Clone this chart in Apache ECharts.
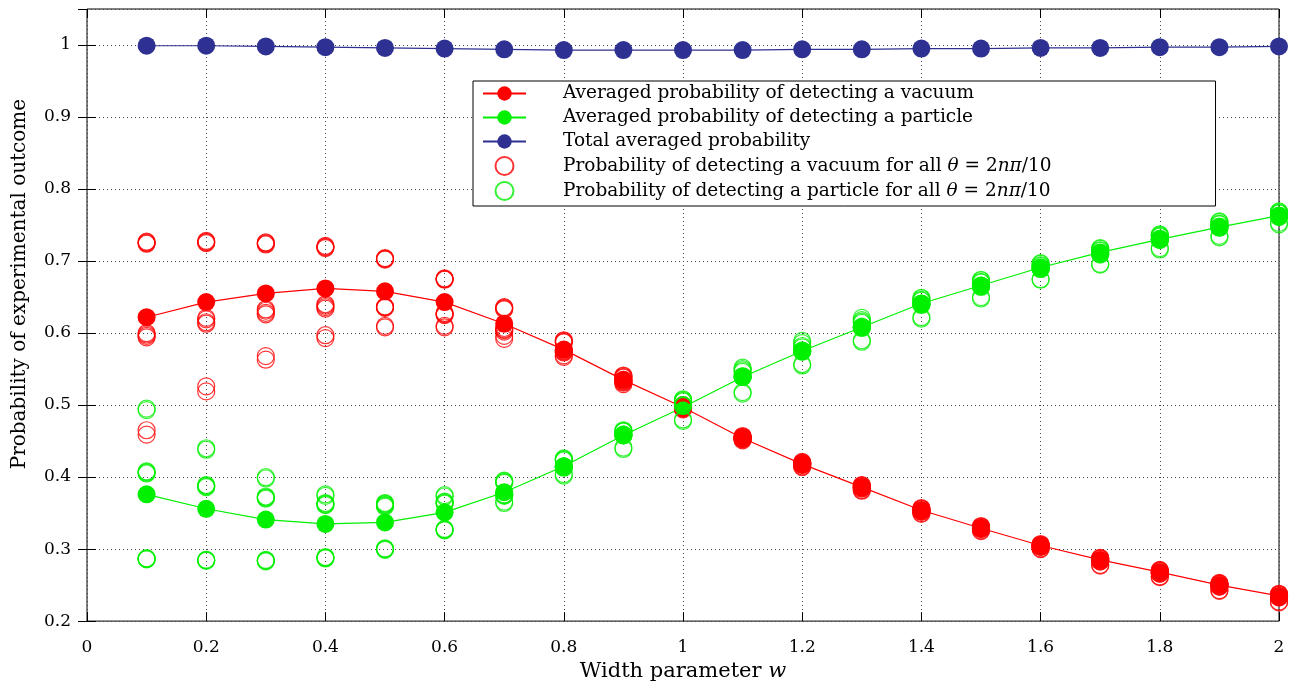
<!DOCTYPE html>
<html><head><meta charset="utf-8">
<script src="https://cdn.jsdelivr.net/npm/echarts@6/dist/echarts.min.js"></script>
<style>html,body{margin:0;padding:0;background:#fff}#c{width:1294px;height:687px}</style>
</head><body><div id="c"></div>
<script>
const widths = [0.1,0.2,0.3,0.4,0.5,0.6,0.7,0.8,0.9,1.0,1.1,1.2,1.3,1.4,1.5,1.6,1.7,1.8,1.9,2.0];
const avgVacuum = [0.622,0.643,0.655,0.662,0.658,0.643,0.613,0.577,0.535,0.497,0.454,0.418,0.386,0.354,0.329,0.305,0.285,0.268,0.250,0.235];
const avgParticle = [0.376,0.356,0.341,0.335,0.337,0.351,0.379,0.415,0.458,0.497,0.539,0.575,0.608,0.641,0.666,0.691,0.712,0.730,0.747,0.763];
const totalProb = [0.999,0.999,0.998,0.997,0.996,0.995,0.994,0.993,0.993,0.993,0.993,0.994,0.994,0.995,0.995,0.996,0.996,0.997,0.997,0.998];
const vacuumTheta = [
 [0.727,0.726,0.725,0.724,0.600,0.598,0.596,0.594,0.465,0.459],
 [0.728,0.727,0.726,0.725,0.621,0.619,0.615,0.613,0.526,0.519],
 [0.726,0.725,0.724,0.723,0.633,0.631,0.628,0.626,0.568,0.563],
 [0.721,0.720,0.719,0.718,0.640,0.638,0.636,0.634,0.597,0.593],
 [0.704,0.703,0.703,0.702,0.637,0.636,0.636,0.635,0.610,0.608],
 [0.676,0.675,0.675,0.674,0.628,0.627,0.626,0.625,0.610,0.608],
 [0.636,0.635,0.634,0.633,0.607,0.605,0.604,0.602,0.596,0.592],
 [0.590,0.589,0.588,0.587,0.576,0.575,0.574,0.573,0.569,0.567],
 [0.541,0.540,0.539,0.538,0.535,0.534,0.533,0.532,0.531,0.529],
 [0.500,0.499,0.499,0.498,0.497,0.497,0.496,0.496,0.495,0.494],
 [0.457,0.456,0.456,0.455,0.454,0.454,0.453,0.453,0.452,0.451],
 [0.421,0.420,0.420,0.419,0.418,0.418,0.417,0.417,0.415,0.414],
 [0.389,0.388,0.388,0.387,0.386,0.385,0.385,0.384,0.382,0.381],
 [0.357,0.356,0.356,0.355,0.353,0.353,0.352,0.352,0.350,0.349],
 [0.332,0.331,0.331,0.330,0.329,0.329,0.328,0.328,0.326,0.325],
 [0.307,0.306,0.306,0.305,0.304,0.304,0.303,0.303,0.301,0.300],
 [0.288,0.287,0.287,0.286,0.284,0.284,0.283,0.283,0.278,0.277],
 [0.271,0.270,0.270,0.269,0.267,0.267,0.266,0.266,0.262,0.261],
 [0.253,0.252,0.252,0.251,0.249,0.249,0.248,0.248,0.243,0.242],
 [0.238,0.237,0.237,0.236,0.234,0.234,0.233,0.233,0.227,0.226]
];
const particleTheta = [
 [0.495,0.493,0.408,0.407,0.406,0.405,0.287,0.287,0.286,0.286],
 [0.440,0.438,0.389,0.388,0.387,0.386,0.285,0.285,0.284,0.284],
 [0.400,0.398,0.373,0.372,0.371,0.370,0.285,0.284,0.284,0.283],
 [0.376,0.374,0.364,0.363,0.362,0.361,0.289,0.288,0.288,0.287],
 [0.364,0.363,0.362,0.361,0.360,0.359,0.301,0.300,0.300,0.299],
 [0.375,0.373,0.366,0.365,0.364,0.363,0.328,0.327,0.327,0.326],
 [0.395,0.394,0.393,0.392,0.376,0.375,0.375,0.374,0.366,0.364],
 [0.426,0.425,0.424,0.423,0.415,0.414,0.414,0.413,0.404,0.402],
 [0.465,0.464,0.464,0.463,0.459,0.459,0.458,0.458,0.441,0.439],
 [0.508,0.507,0.506,0.505,0.500,0.500,0.499,0.499,0.480,0.478],
 [0.552,0.550,0.548,0.546,0.540,0.540,0.539,0.539,0.518,0.516],
 [0.589,0.586,0.582,0.580,0.576,0.575,0.575,0.574,0.557,0.555],
 [0.621,0.618,0.616,0.614,0.609,0.608,0.608,0.607,0.590,0.588],
 [0.649,0.648,0.646,0.645,0.641,0.640,0.640,0.639,0.622,0.620],
 [0.674,0.673,0.671,0.670,0.666,0.665,0.665,0.664,0.650,0.648],
 [0.697,0.696,0.694,0.693,0.690,0.690,0.689,0.689,0.675,0.674],
 [0.718,0.717,0.715,0.714,0.711,0.710,0.710,0.709,0.696,0.695],
 [0.737,0.736,0.735,0.734,0.731,0.730,0.730,0.729,0.718,0.716],
 [0.755,0.754,0.752,0.751,0.748,0.747,0.747,0.746,0.735,0.733],
 [0.769,0.768,0.767,0.766,0.763,0.762,0.762,0.761,0.753,0.751]
];
const xTicks = {min:0, max:2, interval:0.2};
const yTicks = {min:0.2, max:1.05, interval:0.1};
const names = [
 'Averaged probability of detecting a vacuum',
 'Averaged probability of detecting a particle',
 'Total averaged probability',
 'Probability of detecting a vacuum for all θ = 2nπ/10',
 'Probability of detecting a particle for all θ = 2nπ/10'
];

const FONT = 'DejaVu Serif';
const TS = 17, LS = 18.5, NSX = 21, NSY = 20;
const RED = '#ff0000', GREEN = '#00f000', BLUE = '#2e3192';
const pair = (ys) => widths.map((x,i)=>[x, ys[i]]);
const flat = (arr) => widths.flatMap((x,i)=>arr[i].map(v=>[x,v]));
const fmt = v => String(+(+v).toFixed(2));

const baseTxt = {fontFamily: FONT, fontSize: TS, color: '#000'};
const legendRich = {
  n: {fontFamily: FONT, fontSize: LS, color:'#000'},
  i: {fontFamily: FONT, fontSize: LS, fontStyle:'italic', color:'#000'}
};
const nameRich = {
  n: {fontFamily: FONT, fontSize: NSX, color:'#000'},
  i: {fontFamily: FONT, fontSize: NSX, fontStyle:'italic', color:'#000'}
};
function richName(name){
  const idx = name.indexOf('θ');
  if (idx < 0) return '{n|' + name + '}';
  return '{n|' + name.slice(0, idx) + '}{i|θ}{n| = 2}{i|nπ}{n|/10}';
}

// legend box width to reach the reference's frame
const cv = document.createElement('canvas').getContext('2d');
cv.font = LS + 'px "' + FONT + '"';
const longest = Math.max(...names.map(n => cv.measureText(n).width));
const LEG_LEFT = 473, LEG_RIGHT = 1217, PADL = 9, ITEMW = 43, TEXTPAD = 32;
const padRight = Math.max(10, Math.round((LEG_RIGHT - LEG_LEFT) - (PADL + ITEMW + 5 + TEXTPAD + longest) - 2));

const chart = echarts.init(document.getElementById('c'), null, {renderer:'canvas'});
const gridLine = {show:true, lineStyle:{color:'#444', type:[1,3], width:1}};
const tick = {show:true, inside:true, length:9, lineStyle:{color:'#000'}};
chart.setOption({
  animation:false,
  backgroundColor:'#fff',
  grid:{left:87, right:15, top:9, bottom:65, show:true, borderColor:'#000', borderWidth:1, backgroundColor:'transparent'},
  xAxis:[{
    type:'value', ...xTicks, position:'bottom',
    axisLine:{show:false}, axisTick:tick,
    splitLine:gridLine,
    axisLabel:{...baseTxt, margin:18, formatter:fmt},
    name:'{n|Width parameter }{i|w}', nameLocation:'middle', nameGap:23,
    nameTextStyle:{fontFamily:FONT, fontSize:NSX, rich:nameRich}
  },{
    type:'value', ...xTicks, position:'top',
    axisLine:{show:false}, axisTick:tick,
    splitLine:{show:false}, axisLabel:{show:false}
  }],
  yAxis:[{
    type:'value', ...yTicks, position:'left',
    axisLine:{show:false}, axisTick:tick,
    splitLine:gridLine,
    axisLabel:{...baseTxt, margin:16, formatter:fmt, showMaxLabel:false},
    name:'Probability of experimental outcome', nameLocation:'middle', nameGap:57,
    nameTextStyle:{fontFamily:FONT, fontSize:NSY, color:'#000', padding:[0,0,0,62]}
  },{
    type:'value', ...yTicks, position:'right',
    axisLine:{show:false}, axisTick:tick,
    splitLine:{show:false}, axisLabel:{show:false}
  }],
  legend:{
    orient:'vertical', left:LEG_LEFT, top:81,
    data:names,
    backgroundColor:'#fff', borderColor:'#000', borderWidth:1, borderRadius:0,
    padding:[3,padRight,5,PADL], itemGap:5, itemWidth:ITEMW, itemHeight:18,
    textStyle:{fontFamily:FONT, fontSize:LS, color:'#000', rich:legendRich, padding:[0,0,0,TEXTPAD]},
    formatter: richName
  },
  series:[
    {name:names[0], type:'line', data:pair(avgVacuum), symbol:'circle', symbolSize:18,
     lineStyle:{color:RED, width:1.2}, itemStyle:{color:RED}, z:2},
    {name:names[1], type:'line', data:pair(avgParticle), symbol:'circle', symbolSize:18,
     lineStyle:{color:GREEN, width:1.2}, itemStyle:{color:GREEN}, z:2},
    {name:names[2], type:'line', data:pair(totalProb), symbol:'circle', symbolSize:18,
     lineStyle:{color:BLUE, width:1.2}, itemStyle:{color:BLUE}, z:2},
    {name:names[3], type:'scatter', data:flat(vacuumTheta), symbol:'circle', symbolSize:17,
     itemStyle:{color:'rgba(255,255,255,0)', borderColor:RED, borderWidth:1.2}, z:3},
    {name:names[4], type:'scatter', data:flat(particleTheta), symbol:'circle', symbolSize:17,
     itemStyle:{color:'rgba(255,255,255,0)', borderColor:GREEN, borderWidth:1.2}, z:3}
  ]
});
</script></body></html>
